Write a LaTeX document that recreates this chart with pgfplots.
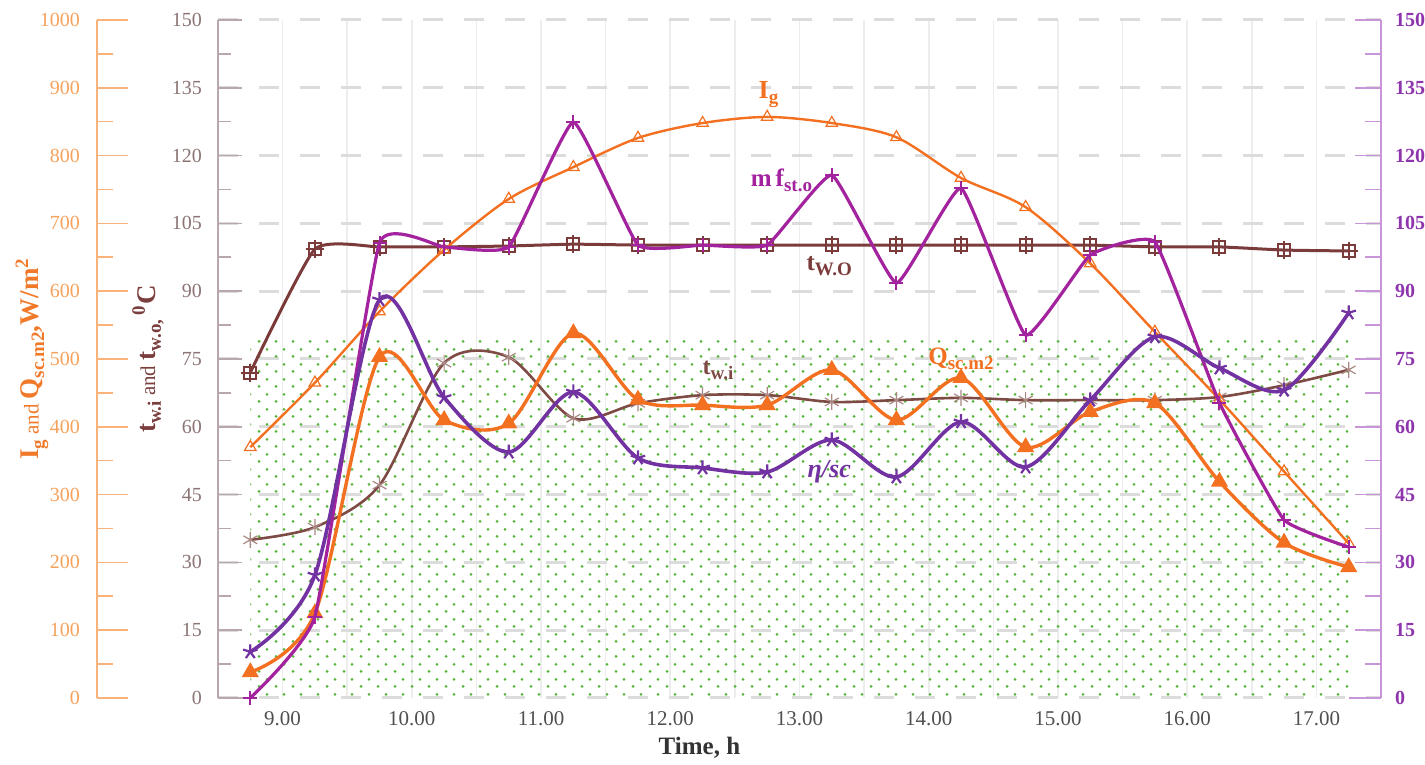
\documentclass[border=0pt]{standalone}
\usepackage{pgfplots}
\usepackage{pgfplotstable}
\pgfplotsset{compat=1.18}
\usepackage{fontspec}
\setmainfont{Liberation Serif}
\usetikzlibrary{patterns.meta}

\definecolor{cOr}{HTML}{F37021}
\definecolor{cOrAx}{HTML}{F9B27A}
\definecolor{cOrTxt}{HTML}{F5A25C}
\definecolor{cOrLab}{HTML}{F07A2A}
\definecolor{cBrO}{HTML}{7B3B3B}
\definecolor{cBrI}{HTML}{7D4A44}
\definecolor{cBrAx}{HTML}{B8A8AC}
\definecolor{cBrTxt}{HTML}{8C7474}
\definecolor{cBrLab}{HTML}{7A3E3E}
\definecolor{cMag}{HTML}{A3229E}
\definecolor{cPur}{HTML}{7232A2}
\definecolor{cPurAx}{HTML}{C896D8}
\definecolor{cPurTxt}{HTML}{8E35AE}
\definecolor{cGreen}{HTML}{58B43A}
\definecolor{cGrid}{HTML}{DCDCDC}
\definecolor{cVGrid}{HTML}{EDEDED}
\definecolor{cTick}{HTML}{505050}

\tikzdeclarepattern{
  name=gdots,
  type=uncolored,
  bounding box={(0pt,0pt) and (8.5pt,7.5pt)},
  tile size={(8.5pt,7.5pt)},
  code={\fill (2.125pt,1.875pt) circle (0.8pt); \fill (6.375pt,5.625pt) circle (0.8pt);}
}

\pgfdeclareplotmark{sqplus}{%
  \pgfpathrectangle{\pgfpoint{-\pgfplotmarksize}{-\pgfplotmarksize}}{\pgfpoint{2\pgfplotmarksize}{2\pgfplotmarksize}}%
  \pgfpathmoveto{\pgfpoint{-1.5\pgfplotmarksize}{0pt}}\pgfpathlineto{\pgfpoint{1.5\pgfplotmarksize}{0pt}}%
  \pgfpathmoveto{\pgfpoint{0pt}{-1.5\pgfplotmarksize}}\pgfpathlineto{\pgfpoint{0pt}{1.5\pgfplotmarksize}}%
  \pgfusepathqstroke}

\newcommand\sub[1]{\raisebox{-0.45ex}{\fontsize{9.5}{10}\selectfont #1}}

\pgfplotstableread{
t     Ig   Q    twi   two    mf     eta
8.75  370  38   35.0  72.0   0.0    10.2
9.25  465  125  37.8  99.3   18.0   27.2
9.75  570  503  47.1  99.8   100.7  88.1
10.25 661  410  74.1  99.8   99.8   66.5
10.75 736  405  75.4  100.0  99.8   54.4
11.25 783  538  61.9  100.4  127.4  67.7
11.75 826  440  65.2  100.2  100.2  53.1
12.25 848  432  67.0  100.2  100.2  50.9
12.75 857  432  67.0  100.2  100.2  50.0
13.25 848  484  65.5  100.2  115.7  57.1
13.75 827  410  65.9  100.2  91.8   48.9
14.25 767  472  66.4  100.2  112.8  61.1
14.75 724  370  65.9  100.2  80.3   51.1
15.25 641  422  65.9  100.2  98.0   65.9
15.75 540  435  65.9  99.8   100.9  79.9
16.25 440  319  66.6  99.8   65.3   73.0
16.75 334  229  69.2  99.1   39.4   68.1
17.25 228  193  72.6  98.9   33.4   85.2
}\data

\pgfplotsset{
  /pgf/number format/assume math mode=true,
  /pgf/number format/1000 sep={},
  base/.style={scale only axis, width=581.5pt, height=339pt, xmin=8.5, xmax=17.5, clip=false},
}

\begin{document}
\begin{tikzpicture}
% ---------- main axis: left inner (deg C), grid, fill, water temps
\begin{axis}[base, ymin=0, ymax=150,
  axis x line*=bottom, x axis line style={draw=none},
  xtick={9,...,17}, minor xtick={9.5,10.5,...,16.5},
  xticklabel={\pgfmathprintnumber[fixed,fixed zerofill,precision=2]{\tick}},
  xtick style={draw=none}, minor x tick style={draw=none},
  xticklabel style={text=cTick, font=\fontsize{10.5}{12}\selectfont, yshift=-3pt},
  xmajorgrids, xminorgrids, x grid style={cVGrid, line width=0.8pt, solid},
  axis y line*=left, ytick={0,15,...,150}, minor y tick num=1,
  tick align=inside, major tick length=12pt, minor tick length=6.5pt,
  y axis line style={cBrAx, line width=1pt},
  every tick/.append style={cBrAx, line width=0.8pt},
  yticklabel style={text=cBrTxt, font=\fontsize{10}{12}\selectfont, xshift=-4.5pt},
  ymajorgrids, y grid style={cGrid, line width=1.5pt, dash pattern=on 10pt off 10.5pt},
]
\fill[pattern=gdots, pattern color=cGreen] (axis cs:8.75,0) rectangle (axis cs:17.25,80);
\draw[cBrAx, line width=1pt] (axis cs:8.5,0) -- (axis cs:8.75,0);
\draw[cPurAx, line width=1pt] (axis cs:17.25,0) -- (axis cs:17.5,0);
\addplot[cBrO, line width=1.5pt, smooth, tension=0.3, mark=sqplus, mark size=3pt, mark options={solid, line width=1pt}] table[x=t,y=two]{\data};
\addplot[cBrI, line width=1.3pt, smooth, tension=0.5, mark=asterisk, mark size=4pt, mark options={solid, line width=0.6pt, draw=cBrI!65}] table[x=t,y=twi]{\data};
\node[font=\bfseries\fontsize{12.5}{14}\selectfont, text=black!80] at ([yshift=-25pt]axis description cs:0.414,0) {Time, h};
\end{axis}

% ---------- far-left orange scale
\begin{axis}[scale only axis, at={(-60.5pt,0)}, width=20pt, height=339pt,
  xmin=0, xmax=1, ymin=0, ymax=1000,
  axis x line=none, axis y line*=left,
  ytick={0,100,...,1000}, minor y tick num=1,
  tick align=inside, major tick length=15.5pt, minor tick length=8pt,
  y axis line style={cOrAx, line width=1pt},
  every tick/.append style={cOrAx, line width=0.8pt},
  yticklabel style={text=cOrTxt, font=\fontsize{10}{12}\selectfont, xshift=-5pt},
]
\end{axis}

% ---------- orange data (0-1000)
\begin{axis}[base, ymin=0, ymax=1000, hide axis]
\addplot[cOr, line width=1.2pt, smooth, tension=0.5, mark=triangle, mark size=3.3pt, mark options={solid, line width=0.6pt}] table[x=t,y=Ig]{\data};
\addplot[cOr, line width=1.7pt, smooth, tension=0.5, mark=triangle*, mark size=3.3pt, mark options={solid}] table[x=t,y=Q]{\data};
\end{axis}

% ---------- right purple scale and flows
\begin{axis}[base, ymin=0, ymax=150,
  axis x line=none, axis y line*=right,
  ytick={0,15,...,150}, minor y tick num=1,
  tick align=inside, major tick length=13pt, minor tick length=8pt,
  y axis line style={cPurAx, line width=1pt},
  every tick/.append style={cPurAx, line width=0.8pt},
  yticklabel style={text=cPurTxt, font=\bfseries\fontsize{10}{12}\selectfont, xshift=3.5pt},
]
\addplot[cMag, line width=1.6pt, smooth, tension=0.22, mark=+, mark size=3.5pt, mark options={solid, line width=1pt}] table[x=t,y=mf]{\data};
\addplot[cPur, line width=1.8pt, smooth, tension=0.5, mark=star, mark size=3.8pt, mark options={solid, line width=1.1pt}] table[x=t,y=eta]{\data};

\node[text=cOr, font=\bfseries\fontsize{13}{14}\selectfont] at (axis cs:12.76,133.5) {I\sub{g}};
\node[text=cMag, font=\bfseries\fontsize{12.5}{14}\selectfont] at (axis cs:12.86,114.5) {m\,f\sub{st.o}};
\node[text=cBrO, font=\bfseries\fontsize{12.5}{14}\selectfont] at (axis cs:13.23,95.5) {t\sub{W.O}};
\node[text=cBrI, font=\bfseries\fontsize{12}{14}\selectfont] at (axis cs:12.37,72.5) {t\sub{w.i}};
\node[text=cOr, font=\bfseries\fontsize{12.5}{14}\selectfont] at (axis cs:14.25,75) {Q\sub{sc.m2}};
\node[text=cPur, font=\bfseries\itshape\fontsize{13}{14}\selectfont] at (axis cs:13.23,50) {η/sc};
\end{axis}

% ---------- rotated axis titles
\node[rotate=90, text=cOrLab, font=\bfseries\fontsize{13.5}{15}\selectfont] at (-93pt,169.5pt)
  {I\sub{g}{\mdseries\fontsize{10.5}{12}\selectfont\ and }Q\sub{sc.m2},W/m\textsuperscript{2}};
\node[rotate=90, text=cBrLab, font=\bfseries\fontsize{13.5}{15}\selectfont] at (-35pt,169.5pt)
  {t\sub{w.i}{\mdseries\fontsize{10.5}{12}\selectfont\ and }t\sub{w.o,}\,\textsuperscript{0}C};

\pgfresetboundingbox
\path[use as bounding box] (-109pt,-33.5pt) rectangle (603.5pt,349pt);
\end{tikzpicture}
\end{document}
